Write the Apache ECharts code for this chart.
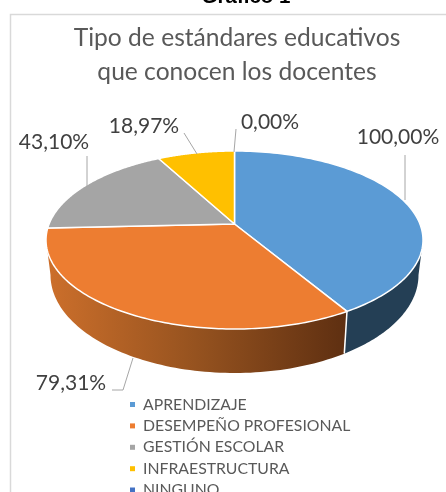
<!DOCTYPE html>
<html><head><meta charset="utf-8">
<style>html,body{margin:0;padding:0;background:#fff;overflow:hidden}#c{width:446px;height:492px}</style>
<script src="https://cdn.jsdelivr.net/npm/echarts@6/dist/echarts.min.js"></script>
</head><body><div id="c"></div>
<script>
const categories = ['APRENDIZAJE','DESEMPEÑO PROFESIONAL','GESTIÓN ESCOLAR','INFRAESTRUCTURA','NINGUNO'];
const values = [100.00, 79.31, 43.10, 18.97, 0.00];
const colors = ['#5B9BD5','#ED7D31','#A5A5A5','#FFC000','#4472C4'];

const FONT = 'Lato, "Open Sans", sans-serif';
const TOP = {cx:234.5, cy:240, rx:188.5, ry:89, a:0.18};
const BOT = {cx:234.5, cy:275, rx:184, ry:98};
const labelPos = [[398,137],[71,383],[54,142],[144,126],[270,122]];
const leaders = [
  [[405,155],[405,200]],
  [[112,390],[123,390],[133,358]],
  [[87,156],[87,186]],
  [[184,133],[197,154]],
  [[236,129],[234,152]]
];
const total = values.reduce((s,v)=>s+v,0);
const fmt = v => v.toFixed(2).replace('.',',') + '%';

function ellipseParam(t){
  const u=Math.sin(t), v=Math.cos(t), a=TOP.a, d=1+a*v;
  let p=Math.atan2(u*Math.sqrt(1-a*a)/d,(v+a)/d);
  return p<0?p+2*Math.PI:p;
}
const pt=(e,p)=>[e.cx+e.rx*Math.sin(p), e.cy-e.ry*Math.cos(p)];

function render(idx){
  return function(params,api){
    const val=api.value(0);
    let before=0; for(let i=0;i<idx;i++) before+=values[i];
    const t0=before/total*2*Math.PI, t1=(before+val)/total*2*Math.PI;
    let p0=t0===0?0:ellipseParam(t0), p1=t1>=2*Math.PI-1e-6?2*Math.PI:ellipseParam(t1);
    if(idx===4){p0=p1=0;}
    const children=[];
    if(val>0){
      const lo=Math.max(p0,Math.PI/2), hi=Math.min(p1,3*Math.PI/2);
      if(hi>lo){
        const pts=[];
        for(let i=0;i<=80;i++) pts.push(pt(TOP,lo+(hi-lo)*i/80));
        for(let i=80;i>=0;i--) pts.push(pt(BOT,lo+(hi-lo)*i/80));
        const fill= idx===1
          ? {type:'linear',x:48,y:0,x2:347,y2:0,global:true,colorStops:[
              {offset:0,color:'#CC6F2B'},{offset:.5,color:'#95521F'},{offset:1,color:'#5E2F11'}]}
          : '#243F55';
        children.push({type:'polygon',shape:{points:pts},style:{fill:fill,stroke:'none'}});
        if(idx===0){
          const a=pt(TOP,hi),b=pt(BOT,hi);
          children.push({type:'line',z2:5,shape:{x1:a[0],y1:a[1],x2:b[0],y2:b[1]},style:{stroke:'#fff',lineWidth:1.5}});
        }
      }
      const apex=[TOP.cx,TOP.cy-TOP.a*TOP.ry];
      const pts=[apex];
      for(let i=0;i<=120;i++) pts.push(pt(TOP,p0+(p1-p0)*i/120));
      children.push({type:'polygon',z2:3,shape:{points:pts},
        style:{fill:colors[idx],stroke:'#fff',lineWidth:1.5,lineJoin:'round'}});
    }
    children.push({type:'polyline',z2:6,shape:{points:leaders[idx]},style:{fill:'none',stroke:'#A6A6A6',lineWidth:1}});
    children.push({type:'text',z2:7,x:labelPos[idx][0],y:labelPos[idx][1],
      style:{text:fmt(val),fill:'#404040',font:'21px '+FONT,textAlign:'center',textVerticalAlign:'middle'}});
    return {type:'group',children};
  };
}

const legendBase={orient:'vertical',left:130,itemWidth:5,itemHeight:5,itemGap:5.4,icon:'rect',padding:0,
  textStyle:{fontFamily:FONT,fontSize:15.8,color:'#595959',padding:[0,0,0,3],lineHeight:15}};

const chart=echarts.init(document.getElementById('c'),null,{renderer:'canvas'});
chart.setOption({
  animation:false,
  title:[
    {text:'Gráfico 1',left:241,textAlign:'center',top:-18,
     textStyle:{fontFamily:'"Liberation Sans"',fontWeight:'bold',fontSize:20.5,color:'#000'}},
    {text:'Tipo de estándares educativos\nque conocen los docentes',left:232,textAlign:'center',top:16,
     textStyle:{fontFamily:FONT,fontWeight:400,fontSize:24.6,lineHeight:34,color:'#595959'}}
  ],
  legend:[
    Object.assign({},legendBase,{top:396.5,data:categories.slice(0,4)}),
    Object.assign({},legendBase,{top:482,data:categories.slice(4)})
  ],
  graphic:[{type:'rect',z:-1,shape:{x:10.5,y:14.5,width:460,height:500},style:{fill:'#fff',stroke:'#D9D9D9',lineWidth:1.5}}],
  series:categories.map((name,i)=>({
    type:'custom',name,coordinateSystem:'none',
    itemStyle:{color:colors[i]},
    data:[[values[i]]],
    renderItem:render(i),
    silent:true
  }))
});
</script></body></html>
